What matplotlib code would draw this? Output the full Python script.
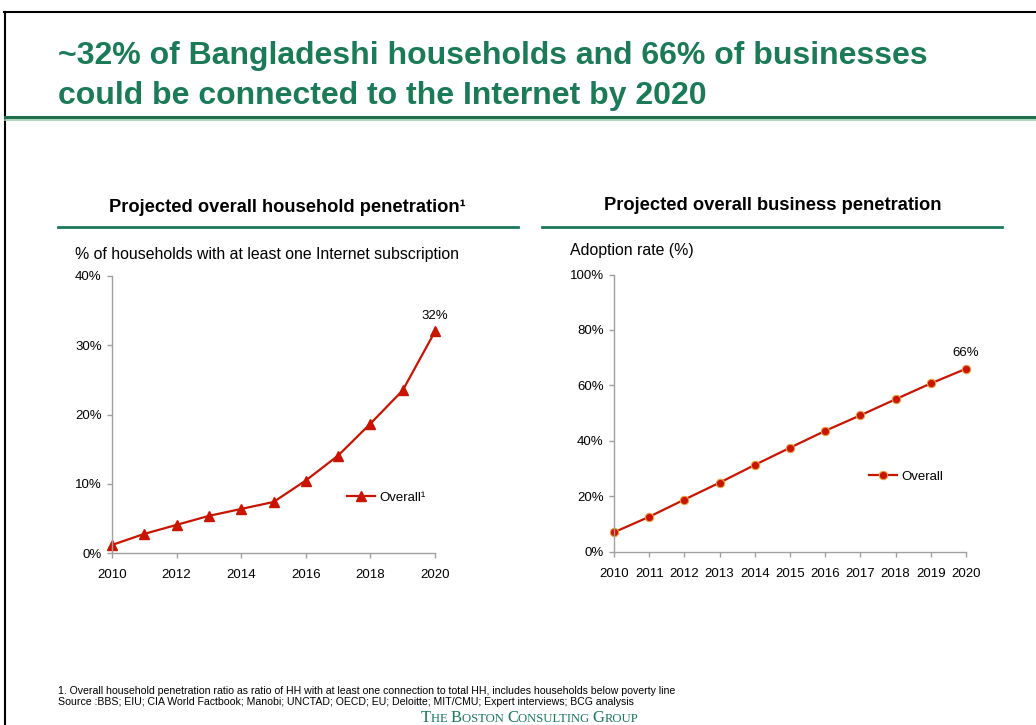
import matplotlib
matplotlib.use("Agg")
import matplotlib.pyplot as plt
from matplotlib.lines import Line2D

plt.rcParams['font.family'] = ['Liberation Sans', 'DejaVu Sans']

# ---- data ----
hh_years = [2010, 2011, 2012, 2013, 2014, 2015, 2016, 2017, 2018, 2019, 2020]
hh_values = [1.2, 2.8, 4.1, 5.4, 6.4, 7.4, 10.5, 14.1, 18.7, 23.5, 32.0]
hh_yticks = [0, 10, 20, 30, 40]
hh_xticks = [2010, 2012, 2014, 2016, 2018, 2020]

biz_years = [2010, 2011, 2012, 2013, 2014, 2015, 2016, 2017, 2018, 2019, 2020]
biz_values = [7.0, 12.6, 18.8, 24.9, 31.3, 37.5, 43.6, 49.2, 55.0, 60.7, 66.0]
biz_yticks = [0, 20, 40, 60, 80, 100]

title_lines = ["~32% of Bangladeshi households and 66% of businesses",
               "could be connected to the Internet by 2020"]
footnotes = ["1. Overall household penetration ratio as ratio of HH with at least one connection to total HH, includes households below poverty line",
             "Source :BBS; EIU; CIA World Factbook; Manobi; UNCTAD; OECD; EU; Deloitte; MIT/CMU; Expert interviews; BCG analysis"]

GREEN = "#1b7a57"
RED = "#c81400"
W, H = 1036, 725

fig = plt.figure(figsize=(W / 100, H / 100), dpi=100)


def fx(px):
    return px / W


def fy(py):
    return 1 - py / H


# slide frame
fig.add_artist(Line2D([fx(4), 1.0], [fy(12), fy(12)], color="black", lw=1.5))
fig.add_artist(Line2D([fx(4.5), fx(4.5)], [fy(12), 0], color="black", lw=1.5))

# headline
fig.text(fx(58), fy(56), title_lines[0], color=GREEN, fontsize=23, fontweight="bold", va="center")
fig.text(fx(58), fy(96), title_lines[1], color=GREEN, fontsize=23, fontweight="bold", va="center")
fig.add_artist(Line2D([fx(5), 1.0], [fy(116.5), fy(116.5)], color="#1f6e4e", lw=2.2))
fig.add_artist(Line2D([fx(5), 1.0], [fy(119.5), fy(119.5)], color="#9fd0b4", lw=1.2))

# panel headers
fig.text(fx(287), fy(207), "Projected overall household penetration\u00b9", fontsize=13.2,
         fontweight="bold", ha="center", va="center")
fig.add_artist(Line2D([fx(58), fx(518)], [fy(227), fy(227)], color=GREEN, lw=2))
fig.text(fx(773), fy(206), "Projected overall business penetration", fontsize=13.2,
         fontweight="bold", ha="center", va="center")
fig.add_artist(Line2D([fx(542), fx(1002)], [fy(227), fy(227)], color=GREEN, lw=2))

fig.text(fx(75), fy(254), "% of households with at least one Internet subscription", fontsize=11.4,
         va="center")
fig.text(fx(570), fy(250), "Adoption rate (%)", fontsize=11.4, va="center")


def style_axes(ax):
    for s in ("top", "right"):
        ax.spines[s].set_visible(False)
    for s in ("left", "bottom"):
        ax.spines[s].set_color("#a0a0a0")
        ax.spines[s].set_linewidth(1)
    ax.tick_params(axis="both", direction="out", length=3.5, width=1, color="#a0a0a0",
                   labelsize=9.5, labelcolor="black")
    ax.tick_params(axis="x", pad=8)
    ax.tick_params(axis="y", pad=4)


# household chart
ax1 = fig.add_axes([fx(112), fy(553.3), fx(435) - fx(112), fy(276) - fy(553.3)])
ax1.plot(hh_years, hh_values, color=RED, lw=1.6, marker="^", markersize=7,
         markerfacecolor=RED, markeredgecolor=RED, clip_on=False, label="Overall\u00b9")
ax1.set_xlim(2010, 2020)
ax1.set_ylim(0, 40)
ax1.set_yticks(hh_yticks)
ax1.set_yticklabels([f"{v}%" for v in hh_yticks])
ax1.set_xticks(hh_xticks)
ax1.set_xticklabels([str(v) for v in hh_xticks])
style_axes(ax1)
ax1.annotate(f"{hh_values[-1]:.0f}%", (hh_years[-1], hh_values[-1]), xytext=(0, 7),
             textcoords="offset points", ha="center", va="bottom", fontsize=9.5)
ax1.legend(loc="center left", bbox_to_anchor=(0.727, 0.20), frameon=False, fontsize=9.5,
           borderpad=0, borderaxespad=0, handlelength=2.1, handletextpad=0.35)

# business chart
ax2 = fig.add_axes([fx(614), fy(551.7), fx(966) - fx(614), fy(274.5) - fy(551.7)])
ax2.plot(biz_years, biz_values, color=RED, lw=1.6, marker="o", markersize=6,
         markerfacecolor=RED, markeredgecolor="#e8a040", markeredgewidth=0.8,
         clip_on=False, label="Overall")
ax2.set_xlim(2010, 2020)
ax2.set_ylim(0, 100)
ax2.set_yticks(biz_yticks)
ax2.set_yticklabels([f"{v}%" for v in biz_yticks])
ax2.set_xticks(biz_years)
ax2.set_xticklabels([str(v) for v in biz_years])
style_axes(ax2)
ax2.annotate(f"{biz_values[-1]:.0f}%", (biz_years[-1], biz_values[-1]), xytext=(0, 7),
             textcoords="offset points", ha="center", va="bottom", fontsize=9.5)
ax2.legend(loc="center left", bbox_to_anchor=(0.724, 0.27), frameon=False, fontsize=9.5,
           borderpad=0, borderaxespad=0, handlelength=2.1, handletextpad=0.35)

# footnotes
fig.text(fx(58), fy(691), footnotes[0], fontsize=7.6, va="center")
fig.text(fx(58), fy(702), footnotes[1], fontsize=7.6, va="center")

# firm name in small caps
renderer = fig.canvas.get_renderer()
pieces = [("T", 12), ("HE ", 9.1), ("B", 12), ("OSTON ", 9.1), ("C", 12), ("ONSULTING ", 9.1),
          ("G", 12), ("ROUP", 9.1)]
x_px = 421
for txt, size in pieces:
    t = fig.text(fx(x_px), fy(722), txt, fontsize=size, color=GREEN,
                 family="Liberation Serif", va="baseline")
    x_px += t.get_window_extent(renderer).width

fig.savefig("out.png", dpi=100)
